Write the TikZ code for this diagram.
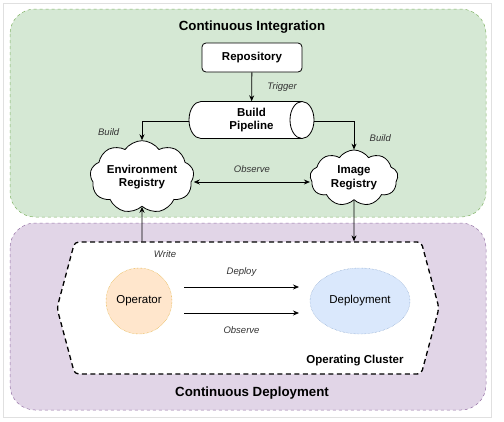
\documentclass[tikz,border=0pt]{standalone}
\usepackage{fontspec}
\setmainfont{Liberation Sans}
\usepackage{xcolor}
\usepackage{tikz}
\usetikzlibrary{arrows.meta, positioning, shapes.geometric, shapes.symbols}
\definecolor{cigreen}{HTML}{D5E8D4}
\definecolor{cigreenline}{HTML}{82B366}
\definecolor{cdpurple}{HTML}{E1D5E7}
\definecolor{cdpurpleline}{HTML}{9673A6}
\definecolor{oporange}{HTML}{FFE6CC}
\definecolor{oporangeline}{HTML}{D79B00}
\definecolor{depblue}{HTML}{DAE8FC}
\definecolor{depblueline}{HTML}{6C8EBF}

\begin{document}
\begin{tikzpicture}[x=1pt, y=-1pt,
    stage/.style={rounded corners=25pt, line width=0.5pt, dashed},
    title/.style={font=\fontsize{13.3}{15}\selectfont\bfseries},
    box/.style={rectangle, rounded corners=4pt, draw, fill=white, line width=0.8pt, minimum width=100pt, minimum height=29pt, font=\fontsize{11.5}{13.5}\selectfont\bfseries, align=center},
    reg/.style={cloud, cloud puffs=9, cloud puff arc=110, draw, fill=white, line width=0.8pt, aspect=1.7, inner sep=0pt, font=\fontsize{11.5}{13.5}\selectfont\bfseries, align=center},
    lbl/.style={font=\fontsize{9.5}{11}\selectfont\itshape, text=black!80},
    arr/.style={-{Stealth[length=6pt, width=5pt]}, line width=0.8pt},
    darr/.style={{Stealth[length=6pt, width=5pt]}-{Stealth[length=6pt, width=5pt]}, line width=0.8pt}
]
    \useasboundingbox (0,0) rectangle (504,421);
    \draw[black!12] (3,3) rectangle (491,417);

    % stages
    \draw[stage, fill=cigreen, draw=cigreenline] (10,9) rectangle (486,217);
    \draw[stage, fill=cdpurple, draw=cdpurpleline] (10,223) rectangle (486,410);
    \node[title] (ci) at (252,27) {Continuous Integration};
    \node[title] (cd) at (252,393) {Continuous Deployment};

    % continuous integration
    \node[box] (repo) at (252,57.5) {Repository};
    % pipeline cylinder, lying on its side
    \draw[line width=0.8pt, fill=white] (201,101.5) -- (302,101.5)
        arc[start angle=90, end angle=-90, x radius=12pt, y radius=18.5pt] -- (201,138.5)
        arc[start angle=270, end angle=90, x radius=12pt, y radius=18.5pt] -- cycle;
    \draw[line width=0.8pt] (302,101.5) arc[start angle=90, end angle=270, x radius=12pt, y radius=18.5pt];
    \node[minimum width=125pt, minimum height=37pt, inner sep=0pt, font=\fontsize{11.5}{13.5}\selectfont\bfseries, align=center] (pipe) at (251.5,120) {Build\\Pipeline};
    \node[reg, minimum width=100pt, minimum height=56pt] (envreg) at (142,177) {Environment\\Registry};
    \node[reg, minimum width=88pt, minimum height=56pt] (imgreg) at (354,178) {Image\\Registry};

    \draw[arr] (repo) -- node[lbl, right=12pt] {Trigger} (pipe);
    \draw[arr] (pipe.west |- 0,121) -| node[lbl, pos=0.8, left=19pt] {Build} (envreg.north);
    \draw[arr] (pipe.east |- 0,121) -| node[lbl, pos=0.8, right=12pt] {Build} (imgreg.north);
    \draw[darr] (envreg.east |- 0,182) -- node[lbl, above=6pt] {Observe} (imgreg.west |- 0,182);

    % continuous deployment
    \node[signal, signal to=east and west, signal pointer angle=150, draw, fill=white, dash pattern=on 5pt off 3.5pt, line width=1.3pt, rounded corners=4pt, minimum width=382pt, minimum height=132pt, inner sep=0pt] (cluster) at (248,308) {};
    \node[font=\fontsize{11.5}{13.5}\selectfont\bfseries] (clustername) at (355,361) {Operating Cluster};
    \node[circle, draw=oporangeline, fill=oporange, densely dotted, minimum size=66pt, font=\fontsize{11.5}{13.5}\selectfont] (operator) at (139,301) {Operator};
    \node[ellipse, draw=depblueline, fill=depblue, densely dotted, minimum width=100pt, minimum height=66pt, inner sep=0pt, font=\fontsize{11.5}{13.5}\selectfont] (deploy) at (360,301) {Deployment};

    \draw[arr] (184,287) coordinate (dep0) -- node[lbl, above=7pt] {Deploy} (299,287) coordinate (dep1);
    \draw[arr] (184,313) coordinate (obs0) -- node[lbl, below=10pt] {Observe} (299,313) coordinate (obs1);
    \draw[arr] (cluster.north -| envreg) -- (envreg.south);
    \node[lbl] (write) at (165,254) {Write};
    \draw[arr] (imgreg.south) -- (cluster.north -| imgreg);
\end{tikzpicture}
\end{document}
